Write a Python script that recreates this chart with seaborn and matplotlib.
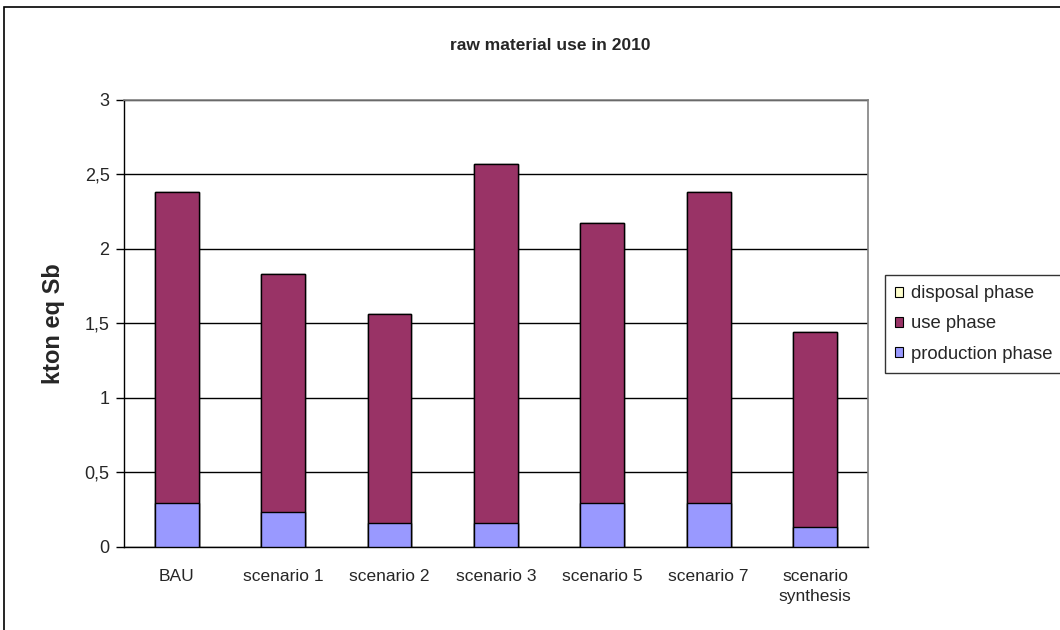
import matplotlib
matplotlib.use("Agg")
import matplotlib.pyplot as plt
from matplotlib.patches import Patch, Rectangle
from matplotlib.ticker import FuncFormatter, FixedLocator
import pandas as pd
import seaborn as sns

# Raw material use per scenario (kton eq Sb)
scenarios = ["BAU", "scenario 1", "scenario 2", "scenario 3",
             "scenario 5", "scenario 7", "scenario\nsynthesis"]
production_phase = [0.29, 0.23, 0.16, 0.16, 0.29, 0.29, 0.13]
use_phase = [2.09, 1.60, 1.40, 2.41, 1.88, 2.09, 1.31]
disposal_phase = [0.001, 0.001, 0.001, 0.001, 0.001, 0.001, 0.001]

series_names = ["production phase", "use phase", "disposal phase"]
series_colors = {"production phase": "#9999FF",
                 "use phase": "#993366",
                 "disposal phase": "#FFFFCC"}

sns.set_theme(style="white")
plt.rcParams["font.family"] = ["Liberation Sans", "DejaVu Sans"]

df = pd.DataFrame({"scenario": scenarios,
                   "production phase": production_phase,
                   "use phase": use_phase,
                   "disposal phase": disposal_phase})
# cumulative heights for stacking
df["cum production phase"] = df["production phase"]
df["cum use phase"] = df["cum production phase"] + df["use phase"]
df["cum disposal phase"] = df["cum use phase"] + df["disposal phase"]

fig = plt.figure(figsize=(10.6, 6.3), dpi=100)
ax = fig.add_axes([123.5 / 1060, 1 - 546.7 / 630, (868.3 - 123.5) / 1060, (546.7 - 99.7) / 630])

# draw stacks from the top segment down so lower segments sit in front
for name in reversed(series_names):
    sns.barplot(data=df, x="scenario", y="cum " + name, ax=ax,
                color=series_colors[name], width=0.41, saturation=1,
                edgecolor="black", linewidth=1.0, zorder=3)

ax.set_ylim(0, 3)
ax.set_xlim(-0.5, len(scenarios) - 0.5)
ax.set_yticks([0, 0.5, 1, 1.5, 2, 2.5, 3])
ax.yaxis.set_major_formatter(FuncFormatter(lambda v, p: f"{v:g}".replace(".", ",")))
ax.grid(axis="y", color="black", linewidth=1.0, zorder=0)
ax.set_axisbelow(True)

ax.set_xticks(range(len(scenarios)))
ax.set_xticklabels(scenarios, fontsize=12.5, linespacing=1.45)
ax.xaxis.set_minor_locator(FixedLocator([i - 0.5 for i in range(len(scenarios) + 1)]))
ax.tick_params(axis="x", which="major", length=0, pad=16)
ax.tick_params(axis="x", which="minor", length=6, width=1, color="black", direction="out")
ax.tick_params(axis="y", which="major", length=6, width=1, color="black", direction="out",
               labelsize=13, pad=4, left=True)

ax.set_xlabel("")
ax.set_ylabel("kton eq Sb", fontsize=17, fontweight="bold", labelpad=14)

for side in ["left", "bottom"]:
    ax.spines[side].set_color("black")
    ax.spines[side].set_linewidth(1.0)
for side in ["top", "right"]:
    ax.spines[side].set_color("#808080")
    ax.spines[side].set_linewidth(1.2)

fig.text(550 / 1060, 1 - 46 / 630, "raw material use in 2010", ha="center", va="center",
         fontsize=12.5, fontweight="bold")

handles = [Patch(facecolor=series_colors[n], edgecolor="black", linewidth=0.8)
           for n in reversed(series_names)]
leg = fig.legend(handles, list(reversed(series_names)), loc="upper left",
                 bbox_to_anchor=(885 / 1060, 1 - 275 / 630), frameon=True, fancybox=False,
                 fontsize=13.3, handlelength=0.45, handleheight=0.45, handletextpad=0.4,
                 labelspacing=0.72, borderpad=0.55, borderaxespad=0)
leg.get_frame().set_edgecolor("black")
leg.get_frame().set_linewidth(1.0)

# outer chart border
fig.patches.append(Rectangle((4 / 1060, -0.1), 1.2, 1.1 - 7 / 630, transform=fig.transFigure,
                             fill=False, edgecolor="black", linewidth=1.2, clip_on=False))

fig.savefig("out.png", dpi=100, facecolor="white")
